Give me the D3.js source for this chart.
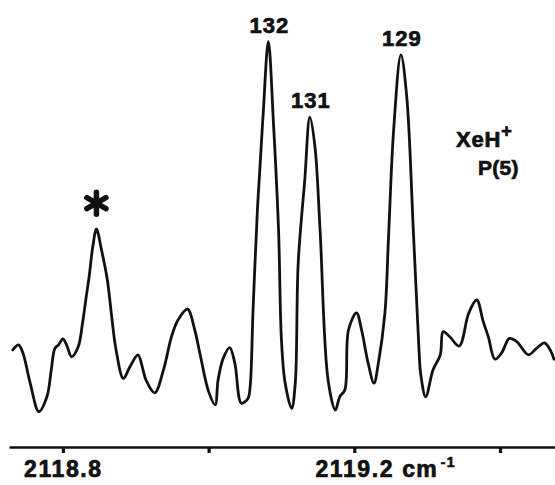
<!DOCTYPE html>
<html>
<head>
<meta charset="utf-8">
<script src="https://cdn.jsdelivr.net/npm/d3@7"></script>
<style>
  body { margin: 0; background: #fff; }
  text { font-family: "Liberation Sans", Arial, sans-serif; font-weight: bold; fill: #111; stroke: #111; stroke-width: 0.7px; }
</style>
</head>
<body>
<div id="chart"></div>
<script>
// datos: número de onda (cm-1) e intensidad (u. arb.)
const wavenumbers = [
  2118.731, 2118.739, 2118.745, 2118.755, 2118.767, 2118.778, 2118.784, 2118.789,
  2118.794, 2118.800, 2118.805, 2118.812, 2118.821, 2118.827, 2118.832, 2118.836,
  2118.841, 2118.846, 2118.853, 2118.861, 2118.867, 2118.873, 2118.883, 2118.892,
  2118.903, 2118.910, 2118.914, 2118.926, 2118.938, 2118.949, 2118.958, 2118.971,
  2118.981, 2118.988, 2119.000, 2119.009, 2119.013, 2119.020, 2119.029, 2119.036,
  2119.045, 2119.054, 2119.057, 2119.061, 2119.067, 2119.070, 2119.075, 2119.082,
  2119.089, 2119.096, 2119.100, 2119.105, 2119.114, 2119.119, 2119.123, 2119.132,
  2119.139, 2119.146, 2119.153, 2119.164, 2119.174, 2119.180, 2119.187, 2119.192,
  2119.203, 2119.210, 2119.219, 2119.227, 2119.233, 2119.242, 2119.247, 2119.254,
  2119.264, 2119.272, 2119.281, 2119.289, 2119.291, 2119.298, 2119.308, 2119.318,
  2119.322, 2119.331, 2119.344, 2119.357, 2119.368, 2119.377, 2119.384, 2119.393,
  2119.402, 2119.413, 2119.423, 2119.439, 2119.450, 2119.461, 2119.469, 2119.474
];
const intensity = [
  17.5, 18.8, 16.8, 9.3, 2.1, 5.8, 12.5, 17.9,
  18.8, 20.3, 18.8, 15.8, 18.3, 24.3, 30.8, 35.8,
  43.3, 47.7, 42.5, 35.0, 25.8, 17.5, 10.4, 13.3,
  16.3, 12.5, 10.0, 6.8, 12.5, 20.8, 25.0, 27.7,
  22.5, 16.7, 7.1, 3.8, 10.0, 15.4, 18.1, 14.2,
  4.2, 5.4, 8.3, 27.5, 52.5, 61.7, 76.8, 94.6,
  74.3, 47.5, 20.0, 9.3, 2.9, 9.3, 39.3, 60.0,
  75.7, 68.3, 47.5, 10.0, 2.5, 5.8, 7.5, 22.5,
  26.8, 22.5, 14.2, 9.2, 14.2, 26.7, 45.8, 72.5,
  91.3, 80.8, 47.5, 16.8, 11.7, 5.8, 12.5, 16.3,
  22.1, 20.8, 18.5, 26.7, 30.0, 24.6, 20.8, 15.2,
  16.7, 20.4, 19.6, 16.3, 17.9, 19.3, 17.5, 15.2
];

// marcas del eje x y cuáles llevan etiqueta
const tickValues = [2118.8, 2119.0, 2119.2, 2119.4];
const tickLabels = ["2118.8", "", "2119.2", ""];

// etiquetas de los isótopos sobre los picos
const peakLabels = ["132", "131", "129"];
const peakPositions = [2119.082, 2119.139, 2119.264];
const peakHeights = [94.6, 75.7, 91.3];

// pico marcado con asterisco
const starPosition = 2118.846;
const starHeight = 47.7;

const width = 555;
const height = 485;

const svg = d3.select("#chart")
  .append("svg")
  .attr("width", width)
  .attr("height", height);

// escalas
const x = d3.scaleLinear()
  .domain([2118.726, 2119.4755])
  .range([9, 555]);

const y = d3.scaleLinear()
  .domain([0, 100])
  .range([420, 20]);

const data = wavenumbers.map((w, i) => ({ w: w, v: intensity[i] }));

// espectro
const line = d3.line()
  .x(d => x(d.w))
  .y(d => y(d.v))
  .curve(d3.curveCatmullRom.alpha(0.5));

svg.append("path")
  .datum(data)
  .attr("d", line)
  .attr("fill", "none")
  .attr("stroke", "#111")
  .attr("stroke-width", 2.8)
  .attr("stroke-linejoin", "round")
  .attr("stroke-linecap", "round");

// eje x
const xAxis = d3.axisBottom(x)
  .tickValues(tickValues)
  .tickFormat((d, i) => tickLabels[i])
  .tickSize(6)
  .tickSizeOuter(0)
  .tickPadding(8);

const gx = svg.append("g")
  .attr("transform", "translate(0,447)")
  .call(xAxis);

gx.select(".domain").attr("stroke", "#111").attr("stroke-width", 2.4);
gx.selectAll(".tick line").attr("stroke", "#111").attr("stroke-width", 3.2);
gx.selectAll(".tick text")
  .attr("font-size", 23)
  .attr("letter-spacing", 1.6)
  .attr("fill", "#111")
  .style("font-family", "'Liberation Sans', Arial, sans-serif")
  .style("font-weight", "bold");

// unidades junto a 2119.2
gx.selectAll(".tick")
  .filter(d => d === 2119.2)
  .each(function() {
    const t = d3.select(this).select("text");
    const half = t.node().getComputedTextLength() / 2;
    const u = d3.select(this).append("text")
      .attr("x", half + 8)
      .attr("y", t.attr("y"))
      .attr("dy", t.attr("dy"))
      .attr("font-size", 23)
      .attr("letter-spacing", 1.2)
      .attr("fill", "#111")
      .attr("text-anchor", "start")
      .style("font-family", "'Liberation Sans', Arial, sans-serif")
      .style("font-weight", "bold");
    u.append("tspan").text("cm");
    u.append("tspan")
      .attr("font-size", 14)
      .attr("dx", 3)
      .attr("dy", -10)
      .text("-1");
  });

// etiquetas de los picos
svg.selectAll(".peak-label")
  .data(peakLabels)
  .enter()
  .append("text")
  .attr("class", "peak-label")
  .attr("x", (d, i) => x(peakPositions[i]) + 1)
  .attr("y", (d, i) => y(peakHeights[i]) - 9)
  .attr("text-anchor", "middle")
  .attr("font-size", 22)
  .attr("letter-spacing", 1)
  .text(d => d);

// asterisco
const sx = x(starPosition);
const sy = y(starHeight) - 26;
const star = svg.append("g").attr("transform", `translate(${sx},${sy})`);
[90, 30, 150].forEach(a => {
  const r = a * Math.PI / 180;
  star.append("line")
    .attr("x1", -11 * Math.cos(r)).attr("y1", -11 * Math.sin(r))
    .attr("x2", 11 * Math.cos(r)).attr("y2", 11 * Math.sin(r))
    .attr("stroke", "#111")
    .attr("stroke-width", 5.5)
    .attr("stroke-linecap", "round");
});

// especie y transición
const lab = svg.append("text")
  .attr("x", 456)
  .attr("y", 147)
  .attr("font-size", 22)
  .attr("letter-spacing", 0.8);
lab.append("tspan").text("XeH");
lab.append("tspan").attr("dy", -10).attr("font-size", 18).text("+");

svg.append("text")
  .attr("x", 478)
  .attr("y", 175)
  .attr("font-size", 21)
  .attr("letter-spacing", 0.3)
  .text("P(5)");
</script>
</body>
</html>
